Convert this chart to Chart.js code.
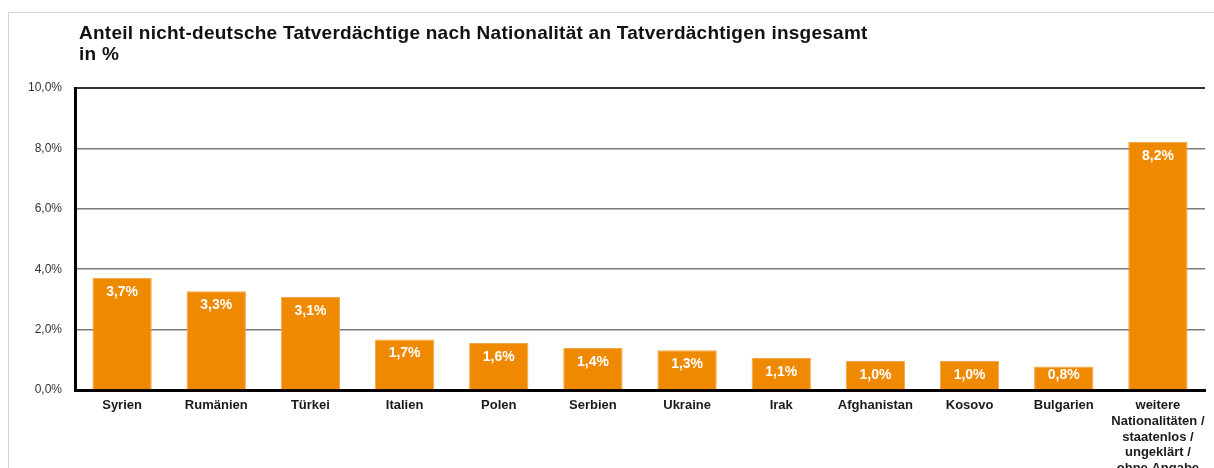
<!DOCTYPE html>
<html>
<head>
<meta charset="utf-8">
<script src="https://cdn.jsdelivr.net/npm/chart.js@4"></script>
<style>
  html, body { margin: 0; padding: 0; background: #fff; }
  #wrap { position: relative; width: 1214px; height: 468px; overflow: hidden; }
  #frame { position: absolute; left: 8px; top: 12px; right: -2px; bottom: -2px; border-left: 1px solid #d6d6d6; border-top: 1px solid #d6d6d6; }
  canvas { position: absolute; left: 0; top: 0; }
</style>
</head>
<body>
<div id="wrap">
  <div id="frame"></div>
  <canvas id="c" width="1214" height="468"></canvas>
</div>
<script>
const titleLines = ["Anteil nicht-deutsche Tatverdächtige nach Nationalität an Tatverdächtigen insgesamt", "in %"];
const categories = [
  "Syrien", "Rumänien", "Türkei", "Italien", "Polen", "Serbien", "Ukraine",
  "Irak", "Afghanistan", "Kosovo", "Bulgarien",
  ["weitere", "Nationalitäten /", "staatenlos /", "ungeklärt /", "ohne Angabe"]
];
const shares = [3.72, 3.27, 3.08, 1.67, 1.56, 1.39, 1.32, 1.06, 0.96, 0.96, 0.78, 8.22];
const yTicks = [0, 2, 4, 6, 8, 10];

const fmt = v => v.toFixed(1).replace('.', ',') + '%';

const titlePlugin = {
  id: 'customTitle',
  afterDraw(chart) {
    const ctx = chart.ctx;
    ctx.save();
    ctx.fillStyle = '#111';
    ctx.font = 'bold 19px "Liberation Sans", Arial, sans-serif';
    try { ctx.letterSpacing = '0.25px'; } catch (e) {}
    ctx.textAlign = 'left';
    ctx.textBaseline = 'alphabetic';
    titleLines.forEach((t, i) => ctx.fillText(t, 79, 39 + i * 21));
    ctx.restore();
  }
};

const labelPlugin = {
  id: 'barLabels',
  afterDatasetsDraw(chart) {
    const ctx = chart.ctx;
    const meta = chart.getDatasetMeta(0);
    ctx.save();
    ctx.fillStyle = '#fff';
    ctx.font = 'bold 14px "Liberation Sans", Arial, sans-serif';
    ctx.textAlign = 'center';
    ctx.textBaseline = 'middle';
    meta.data.forEach((el, i) => {
      const v = chart.data.datasets[0].data[i];
      const y = Math.min(el.y + 14, el.base - 14);
      ctx.fillText(fmt(v), el.x, y);
    });
    ctx.restore();
  }
};

new Chart(document.getElementById('c'), {
  type: 'bar',
  data: {
    labels: categories,
    datasets: [{
      data: shares,
      backgroundColor: '#EF8A00',
      borderColor: '#F4A646',
      borderWidth: 1,
      borderSkipped: 'bottom',
      categoryPercentage: 1,
      barPercentage: 0.63
    }]
  },
  options: {
    responsive: false,
    devicePixelRatio: 1,
    animation: false,
    layout: { padding: { left: 0, right: 9, top: 88, bottom: 0 } },
    plugins: {
      legend: { display: false },
      title: { display: false },
      tooltip: { enabled: false }
    },
    scales: {
      x: {
        grid: { display: false, drawTicks: false },
        border: { display: true, color: '#000', width: 3 },
        ticks: {
          color: '#1a1a1a',
          font: { family: '"Liberation Sans", Arial, sans-serif', size: 13, weight: 'bold', lineHeight: 1.2 },
          maxRotation: 0, minRotation: 0, autoSkip: false, padding: 8
        },
        afterFit(s) { s.height = 78; }
      },
      y: {
        min: 0, max: 10,
        afterBuildTicks(s) { s.ticks = yTicks.map(v => ({ value: v })); },
        grid: {
          drawTicks: false,
          color: c => (c.tick && c.tick.value === 10) ? '#333' : '#7a7a7a',
          lineWidth: c => (c.tick && c.tick.value === 10) ? 2 : 1.5
        },
        border: { display: true, color: '#000', width: 3 },
        ticks: {
          color: '#333',
          font: { family: '"Liberation Sans", Arial, sans-serif', size: 12 },
          padding: 13,
          callback: v => fmt(v)
        },
        afterFit(s) { s.width = 75; }
      }
    }
  },
  plugins: [titlePlugin, labelPlugin]
});
</script>
</body>
</html>
